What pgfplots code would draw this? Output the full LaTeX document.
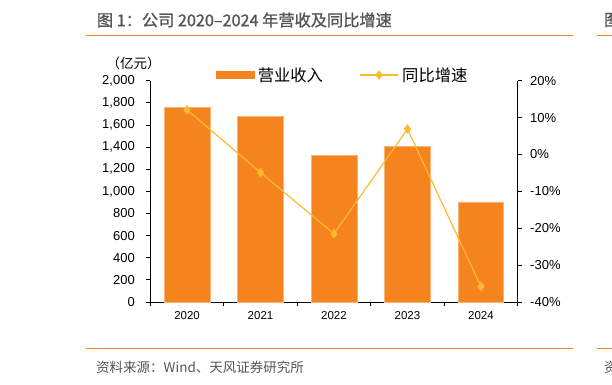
\documentclass[border=0pt]{standalone}
\usepackage{fontspec}
\setmainfont{Liberation Sans}
\newfontfamily\cjk{Noto Sans CJK SC}
\newfontfamily\cjktitle[FakeBold=1.2]{Noto Sans CJK SC}
\usepackage{pgfplots}
\pgfplotsset{compat=1.18}
\definecolor{barcol}{HTML}{F5841F}
\definecolor{linecol}{HTML}{FBBB2F}
\definecolor{rulecol}{HTML}{F58220}
\definecolor{titlegray}{HTML}{555555}
\pgfplotsset{
  lineleg/.style={legend image code/.code={\draw[mark repeat=2,mark phase=2,##1] plot coordinates {(0pt,0pt) (19pt,0pt) (38pt,0pt)};}},
  barleg/.style={legend image code/.code={\fill[barcol] (0pt,-3.6pt) rectangle (38pt,3.6pt);}},
}
\begin{document}
\begin{tikzpicture}[x=1pt,y=1pt]
\useasboundingbox (0,0) rectangle (612,384);
% header / footer
\node[anchor=west,inner sep=0pt,text=titlegray,font=\cjktitle\fontsize{16.2}{16.2}\selectfont] at (96.7,364) {图 1：公司 2020–2024 年营收及同比增速};
\node[anchor=west,inner sep=0pt,text=titlegray,font=\cjktitle\fontsize{16.2}{16.2}\selectfont] at (604,364) {图};
\draw[rulecol,line width=1.2pt] (86,348.3) -- (573,348.3);
\draw[rulecol,line width=1.2pt] (597,348.3) -- (612,348.3);
\draw[rulecol,line width=1.2pt] (86,35.7) -- (573,35.7);
\draw[rulecol,line width=1.2pt] (597,35.7) -- (612,35.7);
\node[anchor=west,inner sep=0pt,text=titlegray,font=\cjk\fontsize{13.5}{13.5}\selectfont] at (96,17) {资料来源：Wind、天风证券研究所};
\node[anchor=west,inner sep=0pt,text=titlegray,font=\cjk\fontsize{13.5}{13.5}\selectfont] at (604,17) {资};
\node[inner sep=0pt,font=\cjk\fontsize{13.5}{13.5}\selectfont] at (133.5,321) {（亿元）};
\begin{axis}[
  at={(150.3pt,82pt)}, anchor=south west,
  scale only axis, width=367.4pt, height=221.3pt,
  xmin=-0.5, xmax=4.5, ymin=0, ymax=2000,
  axis y line*=left, axis x line*=bottom,
  axis line style={black,line width=0.9pt,-},
  xtick={-0.5,0.5,1.5,2.5,3.5,4.5},
  x tick label as interval,
  xticklabels={2020,2021,2022,2023,2024},
  ytick={0,200,...,2000},
  tick align=outside,
  major tick length=4pt,
  tick style={black,line width=0.9pt},
  /pgf/number format/assume math mode=true,
  /pgf/number format/1000 sep={,},
  yticklabel style={font=\fontsize{13}{13}\selectfont,xshift=-8pt},
  xticklabel style={font=\fontsize{11.5}{11.5}\selectfont,yshift=-2pt},
  clip=false,
]
\addplot[ybar, bar width=0.62, fill=barcol, draw=barcol!60!white, line width=0.5pt]
  coordinates {(0,1756) (1,1675) (2,1328) (3,1407) (4,904)};
\end{axis}
\begin{axis}[
  at={(150.3pt,82pt)}, anchor=south west,
  scale only axis, width=367.4pt, height=221.3pt,
  xmin=-0.5, xmax=4.5, ymin=-40, ymax=20,
  axis x line=none, axis y line*=right,
  axis line style={black,line width=0.9pt,-},
  ytick={-40,-30,...,20},
  tick align=outside,
  major tick length=4pt,
  tick style={black,line width=0.9pt},
  /pgf/number format/assume math mode=true,
  yticklabel={\pgfmathprintnumber{\tick}\%},
  yticklabel style={font=\fontsize{13}{13}\selectfont,xshift=5pt},
  legend style={draw=none, fill=none, at={(0.178,1.0258)}, anchor=west,
    inner sep=0pt, font=\cjk\fontsize{16.3}{16.3}\selectfont,
    nodes={inner xsep=3.5pt, inner ysep=0pt},
    /tikz/every even column/.append style={column sep=33pt}},
  legend columns=2,
  legend cell align=left,
  clip=false,
]
\addlegendimage{barleg}
\addlegendentry{营业收入}
\addplot[linecol, line width=1.2pt, mark=diamond*, mark size=4.5pt, mark options={fill=linecol, draw=linecol, line width=0.4pt}, lineleg]
  coordinates {(0,12.1) (1,-4.9) (2,-21.5) (3,6.9) (4,-35.8)};
\addlegendentry{同比增速}
\end{axis}
\end{tikzpicture}
\end{document}
